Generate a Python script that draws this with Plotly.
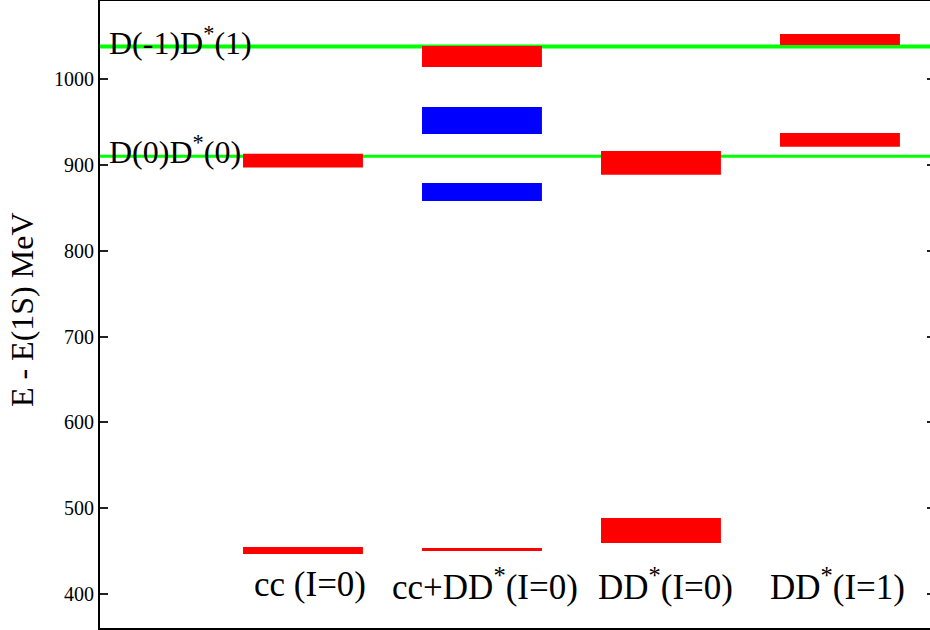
import plotly.graph_objects as go

# ---- data ----
categories = ["cc (I=0)", "cc+DD<sup>*</sup>(I=0)", "DD<sup>*</sup>(I=0)", "DD<sup>*</sup>(I=1)"]
cat_pos = [1, 2, 3, 4]

# red levels: (category index, low, high)
red_cat = [1, 1, 2, 2, 3, 3, 4, 4]
red_low = [447.0, 897.0, 450.5, 1014.0, 459.7, 888.6, 921.0, 1039.6]
red_high = [455.0, 913.0, 454.0, 1038.4, 488.8, 916.2, 937.0, 1052.4]

# blue levels
blue_cat = [2, 2]
blue_low = [858.0, 936.0]
blue_high = [879.0, 967.4]

# thresholds
thr_names = ["D(-1)D<sup>*</sup>(1)", "D(0)D<sup>*</sup>(0)"]
thr_values = [1037.8, 910.0]
thr_widths = [4, 3]

yticks = [400, 500, 600, 700, 800, 900, 1000]
yrange = [360.7, 1090.8]
xrange = [-0.134, 4.503]

FONT = "Liberation Serif, Times New Roman, serif"
bar_w = 0.67

fig = go.Figure()

fig.add_trace(go.Bar(
    x=red_cat, y=[h - l for l, h in zip(red_low, red_high)], base=red_low,
    width=bar_w, marker=dict(color="#ff0000", line=dict(width=0)),
    hoverinfo="skip", showlegend=False))
fig.add_trace(go.Bar(
    x=blue_cat, y=[h - l for l, h in zip(blue_low, blue_high)], base=blue_low,
    width=bar_w, marker=dict(color="#0000ff", line=dict(width=0)),
    hoverinfo="skip", showlegend=False))

# invisible trace to activate the right-hand tick axis
fig.add_trace(go.Scatter(x=[cat_pos[0]], y=[yticks[0]], yaxis="y2", mode="markers",
                         marker=dict(opacity=0), hoverinfo="skip", showlegend=False))

shapes = []
annotations = []
for name, val, w in zip(thr_names, thr_values, thr_widths):
    shapes.append(dict(type="line", xref="paper", x0=0, x1=1, yref="y", y0=val, y1=val,
                       line=dict(color="#00ff00", width=w), layer="below"))
    annotations.append(dict(text=name, xref="paper", x=0.0084, xanchor="left",
                            yref="y", y=val, yanchor="middle", yshift=6,
                            showarrow=False, font=dict(family=FONT, size=32, color="black")))

cat_shift = [7, 3, 5, -2]
for name, pos, s in zip(categories, cat_pos, cat_shift):
    annotations.append(dict(text=name, xref="x", x=pos, xshift=s, xanchor="center",
                            yref="y", y=411.5, yanchor="middle",
                            showarrow=False, font=dict(family=FONT, size=35, color="black")))

annotations.append(dict(text="E - E(1S) MeV", xref="paper", x=(22 - 100) / 830, xanchor="center",
                        yref="paper", y=0.507, yanchor="middle", textangle=-90,
                        showarrow=False, font=dict(family=FONT, size=32, color="black")))

fig.update_layout(
    width=930, height=630,
    margin=dict(l=100, r=0, t=1, b=2),
    paper_bgcolor="white", plot_bgcolor="white",
    barmode="overlay",
    showlegend=False,
    shapes=shapes,
    annotations=annotations,
    xaxis=dict(range=xrange, showticklabels=False, ticks="", showgrid=False, zeroline=False,
               showline=True, mirror=True, linecolor="black", linewidth=2),
    yaxis=dict(range=yrange, tickvals=yticks, ticks="inside", ticklen=8, tickwidth=2,
               tickcolor="#222", showline=True, linecolor="black", linewidth=2,
               showgrid=False, zeroline=False,
               tickfont=dict(family=FONT, size=20, color="black")),
    yaxis2=dict(range=yrange, tickvals=yticks, overlaying="y", side="right",
                ticks="inside", ticklen=3, tickwidth=2, tickcolor="#222",
                showticklabels=False, showline=False, showgrid=False, zeroline=False),
)

fig.write_html("out.html")
